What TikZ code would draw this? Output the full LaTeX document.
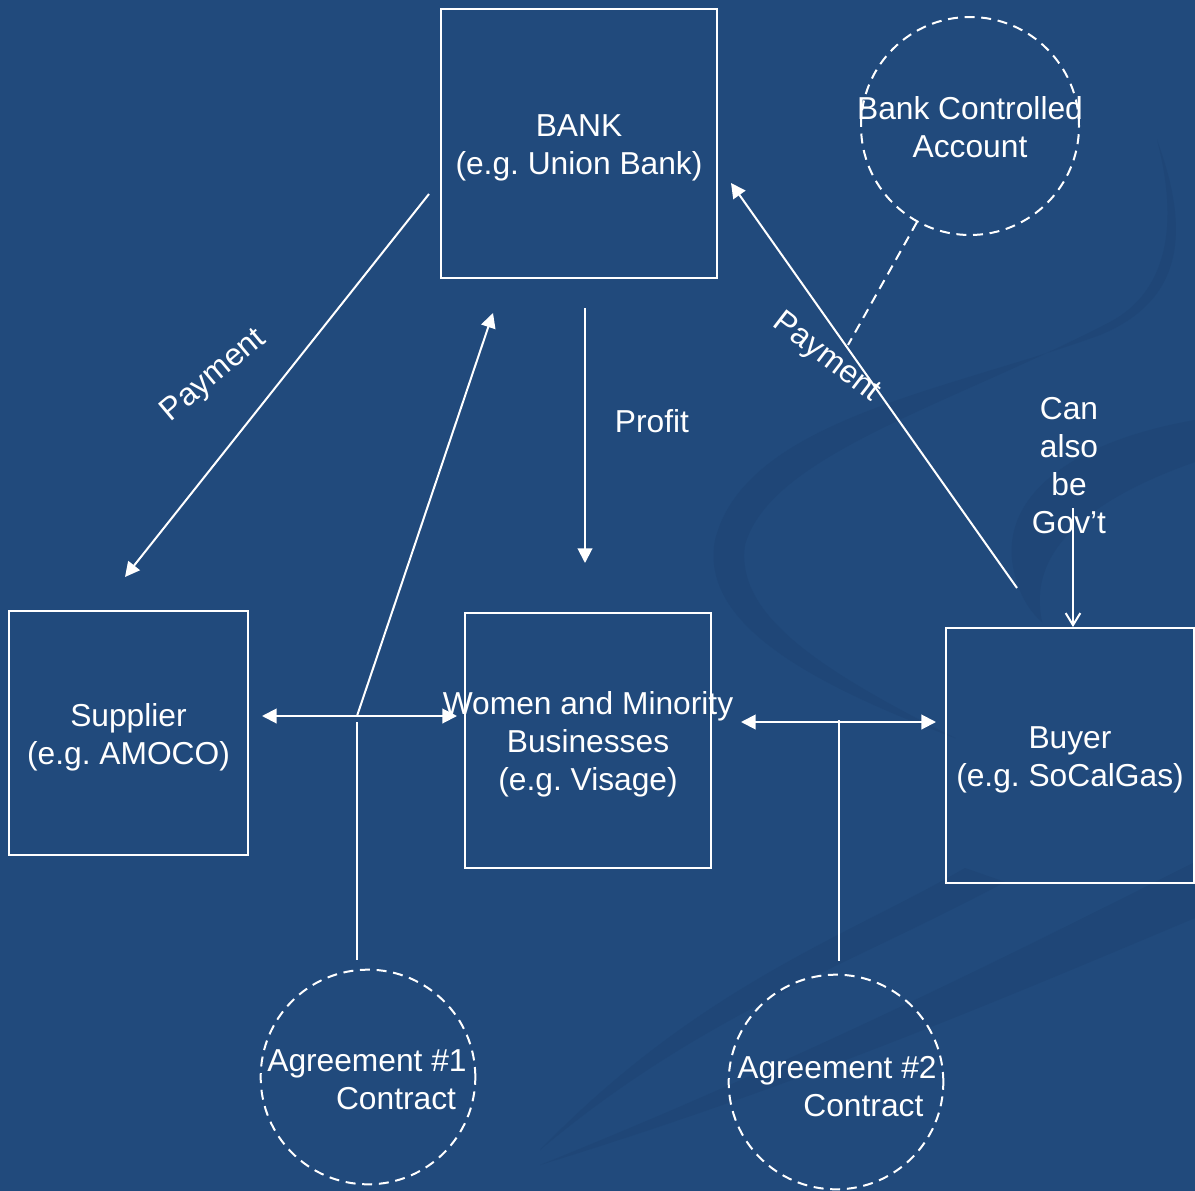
\documentclass[tikz,border=0pt]{standalone}
\usepackage{fontspec}
\setmainfont{Liberation Sans}
\usetikzlibrary{arrows.meta}
\definecolor{bg}{HTML}{214A7C}
\definecolor{band}{HTML}{1F4677}
\frenchspacing
\begin{document}
\begin{tikzpicture}[x=0.75pt,y=-0.75pt,
  lbl/.style={text=white,font=\fontsize{23.8}{28.5}\selectfont,inner sep=0pt},
  box/.style={draw=white,line width=1.5pt,inner sep=0pt},
  dcirc/.style={circle,draw=white,line width=1.5pt,dash pattern=on 7.5pt off 5pt,inner sep=0pt,minimum size=161pt},
  conn/.style={draw=white,line width=1.5pt},
  tri/.style={-{Triangle[length=11pt,width=11pt]}},
  tritwo/.style={{Triangle[length=11pt,width=11pt]}-{Triangle[length=11pt,width=11pt]}},
  barb/.style={-{Straight Barb[length=9pt,width=11pt,line width=1.5pt]}}]
% background
\fill[bg] (0,0) rectangle (1195,1191);
\useasboundingbox (0,0) rectangle (1195,1191);
% faint background swooshes
\begin{scope}[band]
\fill (1157,140) .. controls (1190,230) and (1185,300) .. (1100,335)
  .. controls (950,390) and (745,420) .. (715,540)
  .. controls (700,620) and (800,680) .. (955,738)
  .. controls (820,670) and (735,615) .. (745,545)
  .. controls (770,455) and (950,405) .. (1110,322)
  .. controls (1170,290) and (1178,220) .. (1157,140) -- cycle;
\fill (1195,420) .. controls (1080,440) and (1005,490) .. (1012,560)
  .. controls (1016,590) and (1028,610) .. (1042,622)
  .. controls (1036,590) and (1030,520) .. (1195,462) -- cycle;
\fill (1195,862) .. controls (1000,960) and (800,1060) .. (540,1165)
  .. controls (800,1085) and (1000,1000) .. (1195,918) -- cycle;
\fill (965,868) .. controls (850,935) and (700,985) .. (540,1150)
  .. controls (700,1015) and (850,965) .. (1005,882) -- cycle;
\end{scope}
% boxes
\node[box,minimum width=207pt,minimum height=201.75pt] (bank) at (579,143.5) {};
\node[lbl,align=center] (banktxt) at (579,148) {BANK\\(e.g. Union Bank)};
\node[box,minimum width=179.25pt,minimum height=183pt] (supplier) at (128.5,733) {};
\node[lbl,align=center] (suppliertxt) at (128.5,737) {Supplier\\(e.g. AMOCO)};
\node[box,minimum width=184.5pt,minimum height=191.25pt] (women) at (588,740.5) {};
\node[lbl,align=center] (womentxt) at (588,744.5) {Women and Minority\\Businesses\\(e.g. Visage)};
\node[box,minimum width=186pt,minimum height=191.25pt] (buyer) at (1070,755.5) {};
\node[lbl,align=center] (buyertxt) at (1070,760) {Buyer\\(e.g. SoCalGas)};
% dashed circles
\node[dcirc,minimum size=163.5pt] (bca) at (970,126) {};
\node[lbl,align=center] (bcatxt) at (970,127) {Bank Controlled\\Account};
\node[dcirc] (ag1) at (368,1077) {};
\node[lbl,align=right] (ag1txt) at (367,1080) {Agreement \#1\\Contract\hspace*{8pt}};
\node[dcirc] (ag2) at (836,1082) {};
\node[lbl,align=right] (ag2txt) at (837,1087) {Agreement \#2\\Contract\hspace*{10pt}};
% free labels
\node[lbl,align=center] (gov) at (1069,466) {Can\\also\\be\\Gov't};
\node[lbl] (profit) at (652,421) {Profit};
\node[lbl,rotate=40] (pay1) at (214,376) {Payment};
\node[lbl,rotate=-37.5] (pay2) at (826,358) {Payment};
% connector end points
\coordinate (b1) at (429,194);
\coordinate (s1) at (125,577);
\coordinate (u1) at (1017,588);
\coordinate (b2) at (731,183);
\coordinate (b3) at (585,308);
\coordinate (w1) at (585,563);
\coordinate (sL) at (262,716);
\coordinate (wL) at (457,716);
\coordinate (j1) at (357,716);
\coordinate (b4) at (493,313);
\coordinate (j1b) at (357,722);
\coordinate (a1) at (357,960);
\coordinate (wR) at (741,722);
\coordinate (uL) at (936,722);
\coordinate (j2) at (839,720);
\coordinate (a2) at (839,961);
\coordinate (g1) at (1073,508);
\coordinate (u2) at (buyer.north -| g1);
\coordinate (c1) at (917,222);
\coordinate (c2) at (848,345);
% connectors
\draw[conn,tri] (b1) -- (s1);
\draw[conn,tri] (u1) -- (b2);
\draw[conn,tri] (b3) -- (w1);
\draw[conn,tritwo] (sL) -- (wL);
\draw[conn,tri] (j1) -- (b4);
\draw[conn] (j1b) -- (a1);
\draw[conn,tritwo] (wR) -- (uL);
\draw[conn] (j2) -- (a2);
\draw[conn,barb] (g1) -- (u2);
\draw[conn,dash pattern=on 7.5pt off 5pt] (c1) -- (c2);
\end{tikzpicture}
\end{document}
